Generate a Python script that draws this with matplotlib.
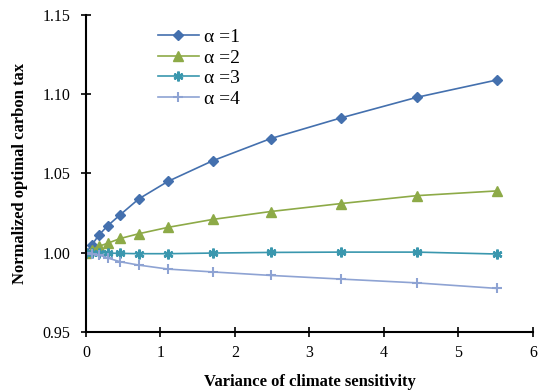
import matplotlib
matplotlib.use("Agg")
import matplotlib.pyplot as plt

# Values
variance = [0.0, 0.08, 0.17, 0.29, 0.46, 0.71, 1.10, 1.70, 2.48, 3.42, 4.44, 5.52]
tax_a1 = [1.000, 1.005, 1.011, 1.017, 1.024, 1.034, 1.045, 1.058, 1.072, 1.085, 1.098, 1.109]
tax_a2 = [1.000, 1.002, 1.004, 1.006, 1.009, 1.012, 1.016, 1.021, 1.026, 1.031, 1.036, 1.039]
tax_a3 = [1.000, 1.000, 1.000, 0.9998, 0.9996, 0.9994, 0.9994, 0.9998, 1.0002, 1.0004, 1.0004, 0.9992]
tax_a4 = [1.000, 0.9995, 0.9987, 0.9967, 0.9943, 0.9922, 0.9897, 0.9879, 0.9857, 0.9834, 0.981, 0.9775]
series_labels = ["α =1", "α =2", "α =3", "α =4"]
x_ticks = [0, 1, 2, 3, 4, 5, 6]
y_ticks = [0.95, 1.00, 1.05, 1.10, 1.15]

plt.rcParams["font.family"] = ["Liberation Serif", "DejaVu Serif"]

fig = plt.figure(figsize=(5.41, 3.92), dpi=100)
ax = fig.add_axes([0.159, 0.153, 0.826, 0.809])

styles = [
    dict(color="#4470AE", marker="D", ms=5, mec="#4470AE"),
    dict(color="#8DAA47", marker="^", ms=7, mec="#8DAA47"),
    dict(color="#3A97AE", marker=(6, 2, 0), ms=7, mew=1.8, mec="#3A97AE"),
    dict(color="#8EA3D3", marker="+", ms=7, mew=1.5, mec="#8EA3D3"),
]
for ys, lab, st in zip([tax_a1, tax_a2, tax_a3, tax_a4], series_labels, styles):
    ax.plot(variance, ys, lw=1.2, label=lab, **st)

ax.set_xlim(0, 6)
ax.set_ylim(0.95, 1.15)
ax.set_xticks(x_ticks)
ax.set_yticks(y_ticks)
ax.set_yticklabels([f"{v:.2f}" for v in y_ticks])
ax.tick_params(direction="inout", length=7, width=1.2, labelsize=11.5, colors="black")
ax.tick_params(axis="x", pad=6)
ax.tick_params(axis="y", pad=8)
for s in ["top", "right"]:
    ax.spines[s].set_visible(False)
for s in ["left", "bottom"]:
    ax.spines[s].set_linewidth(1.5)

ax.set_xlabel("Variance of climate sensitivity", fontsize=12, fontweight="bold", labelpad=9)
ax.set_ylabel("Normalized optimal carbon tax", fontsize=12, fontweight="bold", labelpad=10)

ax.legend(loc="upper left", bbox_to_anchor=(0.13, 1.0), frameon=False, fontsize=14,
          handlelength=2.1, labelspacing=0.15, handletextpad=0.3, borderaxespad=0.3)

fig.savefig("out.png", dpi=100)
